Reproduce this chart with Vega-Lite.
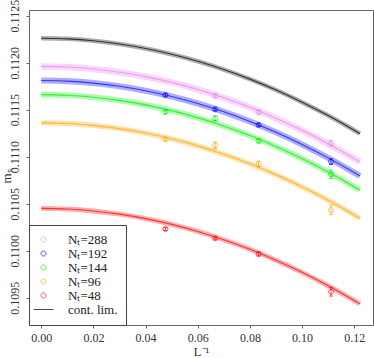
{
  "$schema": "https://vega.github.io/schema/vega-lite/v6.json",
  "width": 344,
  "height": 315,
  "autosize": "none",
  "padding": {"left": 29, "top": 10, "right": 1, "bottom": 33},
  "config": {
    "view": {"stroke": "#666", "strokeWidth": 1},
    "font": "Liberation Serif",
    "axis": {
      "labelFont": "Liberation Serif",
      "titleFont": "Liberation Serif",
      "labelColor": "#333",
      "titleColor": "#333",
      "grid": false,
      "domain": false,
      "tickColor": "#666",
      "tickSize": 3,
      "labelFontSize": 12,
      "titleFontSize": 13,
      "titleFontWeight": "normal"
    },
    "legend": {
      "orient": "bottom-left",
      "offset": 0,
      "padding": 8,
      "strokeColor": "#444",
      "fillColor": "white",
      "labelFont": "Liberation Serif",
      "labelFontSize": 13,
      "labelColor": "#222",
      "symbolSize": 100,
      "symbolStrokeWidth": 1
    }
  },
  "datasets": {
    "curves": [
      {"s": "cont. lim.", "x": 0, "m": 0.11226},
      {"s": "cont. lim.", "x": 0.01, "m": 0.1122532},
      {"s": "cont. lim.", "x": 0.02, "m": 0.1122328},
      {"s": "cont. lim.", "x": 0.03, "m": 0.1121988},
      {"s": "cont. lim.", "x": 0.04, "m": 0.1121512},
      {"s": "cont. lim.", "x": 0.05, "m": 0.11209},
      {"s": "cont. lim.", "x": 0.06, "m": 0.1120152},
      {"s": "cont. lim.", "x": 0.07, "m": 0.1119268},
      {"s": "cont. lim.", "x": 0.08, "m": 0.1118248},
      {"s": "cont. lim.", "x": 0.09, "m": 0.1117092},
      {"s": "cont. lim.", "x": 0.10, "m": 0.11158},
      {"s": "cont. lim.", "x": 0.11, "m": 0.1114372},
      {"s": "cont. lim.", "x": 0.12, "m": 0.1112808},
      {"s": "cont. lim.", "x": 0.1222, "m": 0.1112446},
      {"s": "Nₜ=288", "x": 0, "m": 0.11196},
      {"s": "Nₜ=288", "x": 0.01, "m": 0.1119532},
      {"s": "Nₜ=288", "x": 0.02, "m": 0.1119328},
      {"s": "Nₜ=288", "x": 0.03, "m": 0.1118988},
      {"s": "Nₜ=288", "x": 0.04, "m": 0.1118512},
      {"s": "Nₜ=288", "x": 0.05, "m": 0.11179},
      {"s": "Nₜ=288", "x": 0.06, "m": 0.1117152},
      {"s": "Nₜ=288", "x": 0.07, "m": 0.1116268},
      {"s": "Nₜ=288", "x": 0.08, "m": 0.1115248},
      {"s": "Nₜ=288", "x": 0.09, "m": 0.1114092},
      {"s": "Nₜ=288", "x": 0.10, "m": 0.11128},
      {"s": "Nₜ=288", "x": 0.11, "m": 0.1111372},
      {"s": "Nₜ=288", "x": 0.12, "m": 0.1109808},
      {"s": "Nₜ=288", "x": 0.1222, "m": 0.1109446},
      {"s": "Nₜ=192", "x": 0, "m": 0.11181},
      {"s": "Nₜ=192", "x": 0.01, "m": 0.1118032},
      {"s": "Nₜ=192", "x": 0.02, "m": 0.1117828},
      {"s": "Nₜ=192", "x": 0.03, "m": 0.1117488},
      {"s": "Nₜ=192", "x": 0.04, "m": 0.1117012},
      {"s": "Nₜ=192", "x": 0.05, "m": 0.11164},
      {"s": "Nₜ=192", "x": 0.06, "m": 0.1115652},
      {"s": "Nₜ=192", "x": 0.07, "m": 0.1114768},
      {"s": "Nₜ=192", "x": 0.08, "m": 0.1113748},
      {"s": "Nₜ=192", "x": 0.09, "m": 0.1112592},
      {"s": "Nₜ=192", "x": 0.10, "m": 0.11113},
      {"s": "Nₜ=192", "x": 0.11, "m": 0.1109872},
      {"s": "Nₜ=192", "x": 0.12, "m": 0.1108308},
      {"s": "Nₜ=192", "x": 0.1222, "m": 0.1107946},
      {"s": "Nₜ=144", "x": 0, "m": 0.11166},
      {"s": "Nₜ=144", "x": 0.01, "m": 0.1116532},
      {"s": "Nₜ=144", "x": 0.02, "m": 0.1116328},
      {"s": "Nₜ=144", "x": 0.03, "m": 0.1115988},
      {"s": "Nₜ=144", "x": 0.04, "m": 0.1115512},
      {"s": "Nₜ=144", "x": 0.05, "m": 0.11149},
      {"s": "Nₜ=144", "x": 0.06, "m": 0.1114152},
      {"s": "Nₜ=144", "x": 0.07, "m": 0.1113268},
      {"s": "Nₜ=144", "x": 0.08, "m": 0.1112248},
      {"s": "Nₜ=144", "x": 0.09, "m": 0.1111092},
      {"s": "Nₜ=144", "x": 0.10, "m": 0.11098},
      {"s": "Nₜ=144", "x": 0.11, "m": 0.1108372},
      {"s": "Nₜ=144", "x": 0.12, "m": 0.1106808},
      {"s": "Nₜ=144", "x": 0.1222, "m": 0.1106446},
      {"s": "Nₜ=96", "x": 0, "m": 0.11136},
      {"s": "Nₜ=96", "x": 0.01, "m": 0.1113532},
      {"s": "Nₜ=96", "x": 0.02, "m": 0.1113328},
      {"s": "Nₜ=96", "x": 0.03, "m": 0.1112988},
      {"s": "Nₜ=96", "x": 0.04, "m": 0.1112512},
      {"s": "Nₜ=96", "x": 0.05, "m": 0.11119},
      {"s": "Nₜ=96", "x": 0.06, "m": 0.1111152},
      {"s": "Nₜ=96", "x": 0.07, "m": 0.1110268},
      {"s": "Nₜ=96", "x": 0.08, "m": 0.1109248},
      {"s": "Nₜ=96", "x": 0.09, "m": 0.1108092},
      {"s": "Nₜ=96", "x": 0.10, "m": 0.11068},
      {"s": "Nₜ=96", "x": 0.11, "m": 0.1105372},
      {"s": "Nₜ=96", "x": 0.12, "m": 0.1103808},
      {"s": "Nₜ=96", "x": 0.1222, "m": 0.1103446},
      {"s": "Nₜ=48", "x": 0, "m": 0.11045},
      {"s": "Nₜ=48", "x": 0.01, "m": 0.1104432},
      {"s": "Nₜ=48", "x": 0.02, "m": 0.1104228},
      {"s": "Nₜ=48", "x": 0.03, "m": 0.1103888},
      {"s": "Nₜ=48", "x": 0.04, "m": 0.1103412},
      {"s": "Nₜ=48", "x": 0.05, "m": 0.11028},
      {"s": "Nₜ=48", "x": 0.06, "m": 0.1102052},
      {"s": "Nₜ=48", "x": 0.07, "m": 0.1101168},
      {"s": "Nₜ=48", "x": 0.08, "m": 0.1100148},
      {"s": "Nₜ=48", "x": 0.09, "m": 0.1098992},
      {"s": "Nₜ=48", "x": 0.10, "m": 0.10977},
      {"s": "Nₜ=48", "x": 0.11, "m": 0.1096272},
      {"s": "Nₜ=48", "x": 0.12, "m": 0.1094708},
      {"s": "Nₜ=48", "x": 0.1222, "m": 0.1094346}
    ],
    "points": [
      {"s": "Nₜ=288", "x": 0.066667, "m": 0.111649, "lo": 0.111629, "hi": 0.111669},
      {"s": "Nₜ=288", "x": 0.083333, "m": 0.111472, "lo": 0.111452, "hi": 0.111492},
      {"s": "Nₜ=288", "x": 0.111111, "m": 0.111143, "lo": 0.111113, "hi": 0.111173},
      {"s": "Nₜ=192", "x": 0.047619, "m": 0.111656, "lo": 0.111641, "hi": 0.111671},
      {"s": "Nₜ=192", "x": 0.066667, "m": 0.111504, "lo": 0.111489, "hi": 0.111519},
      {"s": "Nₜ=192", "x": 0.083333, "m": 0.111337, "lo": 0.111322, "hi": 0.111352},
      {"s": "Nₜ=192", "x": 0.111111, "m": 0.110947, "lo": 0.110917, "hi": 0.110977},
      {"s": "Nₜ=144", "x": 0.047619, "m": 0.111476, "lo": 0.111456, "hi": 0.111496},
      {"s": "Nₜ=144", "x": 0.066667, "m": 0.111408, "lo": 0.111383, "hi": 0.111433},
      {"s": "Nₜ=144", "x": 0.083333, "m": 0.111167, "lo": 0.111147, "hi": 0.111187},
      {"s": "Nₜ=144", "x": 0.111111, "m": 0.110813, "lo": 0.110768, "hi": 0.110858},
      {"s": "Nₜ=96", "x": 0.047619, "m": 0.111185, "lo": 0.111165, "hi": 0.111205},
      {"s": "Nₜ=96", "x": 0.066667, "m": 0.111121, "lo": 0.111086, "hi": 0.111156},
      {"s": "Nₜ=96", "x": 0.083333, "m": 0.110922, "lo": 0.110892, "hi": 0.110952},
      {"s": "Nₜ=96", "x": 0.111111, "m": 0.110433, "lo": 0.110383, "hi": 0.110483},
      {"s": "Nₜ=48", "x": 0.047619, "m": 0.110231, "lo": 0.110216, "hi": 0.110246},
      {"s": "Nₜ=48", "x": 0.066667, "m": 0.110132, "lo": 0.110117, "hi": 0.110147},
      {"s": "Nₜ=48", "x": 0.083333, "m": 0.109965, "lo": 0.109945, "hi": 0.109985},
      {"s": "Nₜ=48", "x": 0.111111, "m": 0.109564, "lo": 0.109518, "hi": 0.10961}
    ]
  },
  "layer": [
    {
      "data": {"name": "curves"},
      "mark": {"type": "line", "interpolate": "monotone", "opacity": 0.32, "strokeCap": "butt"},
      "encoding": {
        "x": {
          "field": "x", "type": "quantitative",
          "scale": {"domain": [-0.0047, 0.1272], "nice": false, "zero": false},
          "axis": {"values": [0, 0.02, 0.04, 0.06, 0.08, 0.1, 0.12], "format": ".2f", "title": "L⁻¹", "labelPadding": 4, "titlePadding": 2}
        },
        "y": {
          "field": "m", "type": "quantitative",
          "scale": {"domain": [0.10921, 0.11256], "nice": false, "zero": false},
          "axis": {"values": [0.1095, 0.11, 0.1105, 0.111, 0.1115, 0.112, 0.1125], "format": ".4f", "title": "mₛ", "labelAngle": -90, "labelAlign": "center", "labelBaseline": "bottom", "labelPadding": 5, "titleX": -23, "titleY": 166, "titleAlign": "center", "titleBaseline": "middle", "titleAngle": -90}
        },
        "color": {
          "field": "s", "type": "nominal",
          "scale": {"domain": ["cont. lim.", "Nₜ=48", "Nₜ=96", "Nₜ=144", "Nₜ=192", "Nₜ=288"], "range": ["#000000", "#ff0000", "#ffa500", "#00ee00", "#0000ff", "#ee82ee"]},
          "legend": null
        },
        "strokeWidth": {
          "field": "s", "type": "ordinal",
          "scale": {"domain": ["cont. lim.", "Nₜ=48", "Nₜ=96", "Nₜ=144", "Nₜ=192", "Nₜ=288"], "range": [4.5, 6.5, 3, 2.5, 2.5, 2.5]},
          "legend": null
        }
      }
    },
    {
      "data": {"name": "curves"},
      "mark": {"type": "line", "interpolate": "monotone", "opacity": 0.7, "strokeWidth": 1.1},
      "encoding": {
        "x": {"field": "x", "type": "quantitative"},
        "y": {"field": "m", "type": "quantitative"},
        "color": {"field": "s", "type": "nominal", "legend": null}
      }
    },
    {
      "data": {"name": "points"},
      "mark": {"type": "errorbar", "ticks": {"size": 4}, "thickness": 1, "opacity": 0.7},
      "encoding": {
        "x": {"field": "x", "type": "quantitative"},
        "y": {"field": "lo", "type": "quantitative", "axis": {"title": "mₛ"}},
        "y2": {"field": "hi"},
        "color": {"field": "s", "type": "nominal", "legend": null}
      }
    },
    {
      "data": {"name": "points"},
      "mark": {"type": "point", "filled": false, "size": 100, "opacity": 0.7, "strokeWidth": 1},
      "encoding": {
        "x": {"field": "x", "type": "quantitative"},
        "y": {"field": "m", "type": "quantitative"},
        "stroke": {
          "field": "s", "type": "nominal",
          "scale": {"domain": ["Nₜ=288", "Nₜ=192", "Nₜ=144", "Nₜ=96", "Nₜ=48", "cont. lim."], "range": ["#ee82ee", "#0000ff", "#00ee00", "#ffa500", "#ff0000", "#000000"]},
          "legend": {"title": null, "labelOffset": 18, "rowPadding": -1}
        },
        "shape": {
          "field": "s", "type": "nominal",
          "scale": {"domain": ["Nₜ=288", "Nₜ=192", "Nₜ=144", "Nₜ=96", "Nₜ=48", "cont. lim."], "range": ["M -0.5,0 A 0.5,0.5 0 1,1 0.5,0 A 0.5,0.5 0 1,1 -0.5,0 Z", "M -0.5,0 A 0.5,0.5 0 1,1 0.5,0 A 0.5,0.5 0 1,1 -0.5,0 Z", "M -0.5,0 A 0.5,0.5 0 1,1 0.5,0 A 0.5,0.5 0 1,1 -0.5,0 Z", "M -0.5,0 A 0.5,0.5 0 1,1 0.5,0 A 0.5,0.5 0 1,1 -0.5,0 Z", "M -0.5,0 A 0.5,0.5 0 1,1 0.5,0 A 0.5,0.5 0 1,1 -0.5,0 Z", "M -2,0 L 2,0"]},
          "legend": {"title": null, "labelOffset": 18, "rowPadding": -1}
        }
      }
    }
  ]
}
